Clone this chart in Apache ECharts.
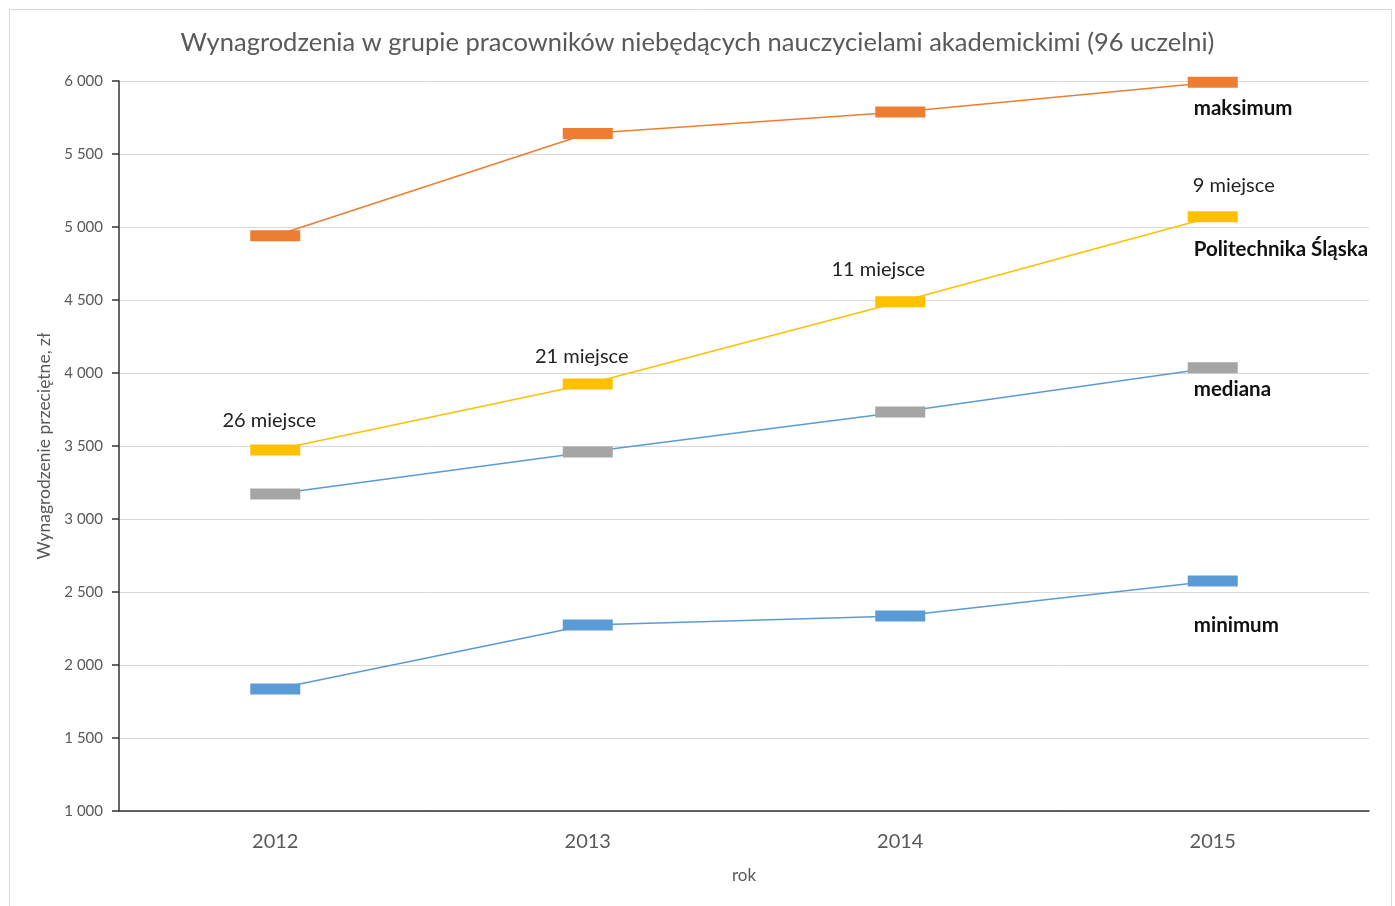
<!DOCTYPE html>
<html>
<head>
    <meta charset="utf-8">
    <script src="https://cdn.jsdelivr.net/npm/echarts@6/dist/echarts.min.js"></script>
</head>
<body style="margin:0">
    <div id="chart" style="width:1395px;height:906px"></div>
<script>
// years and values
const years = ['2012', '2013', '2014', '2015'];
const maksimum = [4940, 5640, 5787, 5992];
const politechnika = [3473, 3925, 4488, 5070];
const mediana = [3171, 3459, 3733, 4036];
const minimum = [1836, 2274, 2336, 2575];
const miejsca = ['26 miejsce', '21 miejsce', '11 miejsce', '9 miejsce'];

const FONT = 'Lato';
const TXT = '#595959';

function endLabel(text, dy) {
    return {
        show: true, position: 'inside', align: 'left', verticalAlign: 'middle',
        offset: [-19, dy], formatter: text,
        fontFamily: FONT, fontSize: 20.5, fontWeight: 'bold', color: '#111'
    };
}

function withEndLabel(values, text, dy) {
    return values.map(function (v, i) {
        if (i === values.length - 1) return { value: v, label: endLabel(text, dy) };
        return v;
    });
}

const rankOffsets = [[-6, -29], [-6, -27], [-22, -32], [21, -31]];
const politechData = politechnika.map(function (v, i) {
    return {
        value: v,
        label: {
            show: true, position: 'inside', align: 'center', verticalAlign: 'middle',
            offset: rankOffsets[i], formatter: miejsca[i],
            fontFamily: FONT, fontSize: 20, color: '#222'
        }
    };
});

// only the last point carries the name label under the marker
const politechName = politechnika.map(function (v, i) {
    return i === politechnika.length - 1 ? { value: v, label: endLabel('Politechnika Śląska', 33) } : null;
});

function makeSeries(name, data, lineColor, markColor) {
    return {
        name: name,
        type: 'line',
        data: data,
        symbol: 'rect',
        symbolSize: [50, 11],
        showAllSymbol: true,
        lineStyle: { color: lineColor, width: 1.5 },
        itemStyle: { color: markColor },
        emphasis: { disabled: true },
        animation: false
    };
}

const chart = echarts.init(document.getElementById('chart'));
chart.setOption({
    backgroundColor: '#fff',
    title: {
        text: 'Wynagrodzenia w grupie pracowników niebędących nauczycielami akademickimi (96 uczelni)',
        left: 'center', top: 25,
        textStyle: { fontFamily: FONT, fontSize: 25.5, fontWeight: 'normal', color: TXT }
    },
    graphic: [{
        type: 'rect', left: 7, top: 7,
        shape: { width: 1382, height: 910 },
        style: { fill: 'none', stroke: '#d9d9d9', lineWidth: 1 }, silent: true
    }],
    grid: { left: 119, right: 26, top: 81, bottom: 95 },
    xAxis: {
        type: 'category',
        data: years,
        boundaryGap: true,
        name: 'rok',
        nameLocation: 'middle',
        nameGap: 56,
        nameTextStyle: { fontFamily: FONT, fontSize: 17, color: TXT },
        axisLine: { lineStyle: { color: '#333', width: 1.5 } },
        axisTick: { length: 7, lineStyle: { color: '#333', width: 1.5 } },
        axisLabel: { margin: 21, fontFamily: FONT, fontSize: 20, color: TXT },
        splitLine: { show: false }
    },
    yAxis: {
        type: 'value',
        min: 1000, max: 6000, interval: 500,
        name: 'Wynagrodzenie przeciętne, zł',
        nameLocation: 'middle',
        nameGap: 66,
        nameTextStyle: { fontFamily: FONT, fontSize: 17.5, color: TXT },
        axisLine: { show: true, lineStyle: { color: '#333', width: 1.5 } },
        axisTick: { show: true, length: 7, lineStyle: { color: '#333', width: 1.5 } },
        axisLabel: {
            margin: 16, fontFamily: FONT, fontSize: 15, color: TXT,
            formatter: function (v) { return String(v).replace(/\B(?=(\d{3})+(?!\d))/g, ' '); }
        },
        splitLine: { lineStyle: { color: '#d9d9d9', width: 1 } }
    },
    series: [
        makeSeries('maksimum', withEndLabel(maksimum, 'maksimum', 26), '#ED7D31', '#ED7D31'),
        makeSeries('Politechnika Śląska', politechData, '#FFC000', '#FFC000'),
        makeSeries('mediana', withEndLabel(mediana, 'mediana', 22), '#5B9BD5', '#A5A5A5'),
        makeSeries('minimum', withEndLabel(minimum, 'minimum', 44), '#5B9BD5', '#5B9BD5'),
        {
            name: 'Politechnika nazwa',
            type: 'scatter',
            data: politechName,
            symbol: 'rect',
            symbolSize: [50, 11],
            itemStyle: { color: 'transparent', opacity: 1 },
            emphasis: { disabled: true },
            silent: true,
            animation: false
        }
    ]
});
</script>
</body>
</html>
